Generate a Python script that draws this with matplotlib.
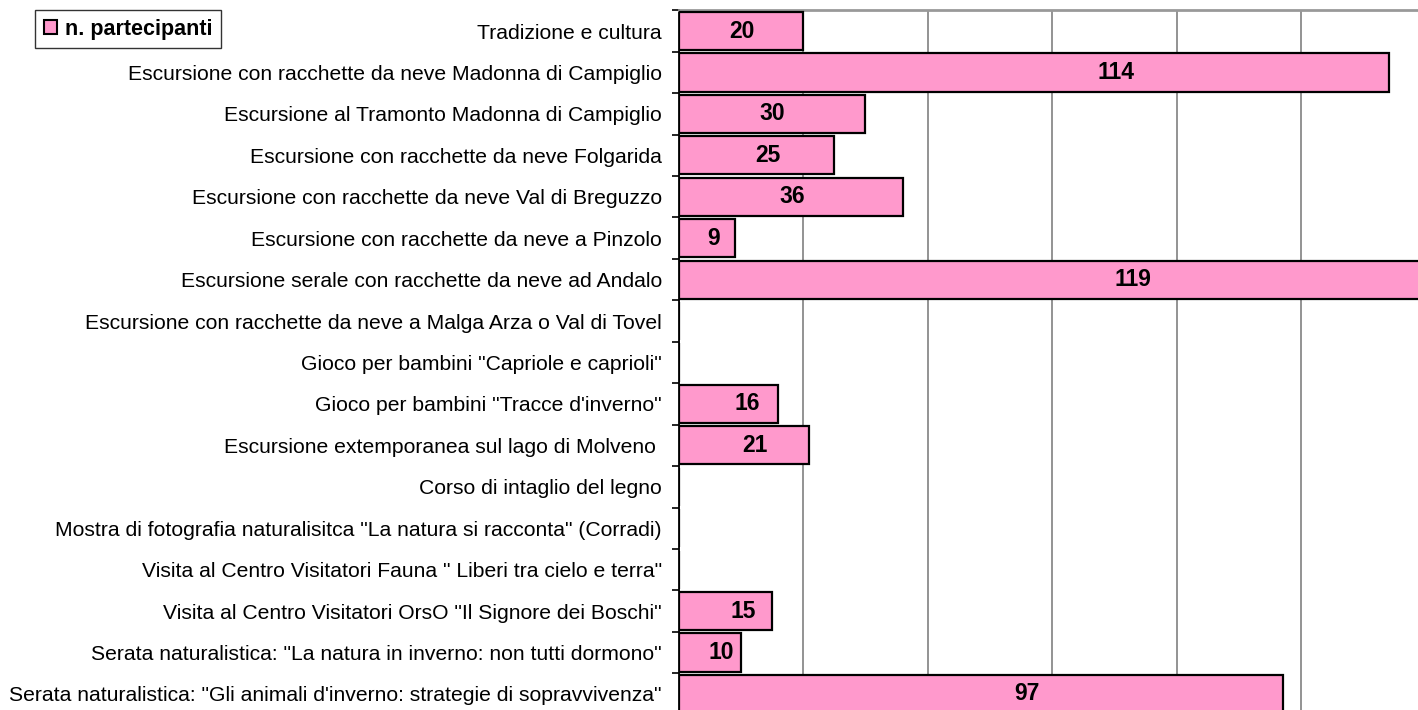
import numpy as np
import matplotlib
matplotlib.use("Agg")
import matplotlib.pyplot as plt
from matplotlib.patches import Patch

# Dati (dall'alto verso il basso)
attivita = [
    'Tradizione e cultura',
    'Escursione con racchette da neve Madonna di Campiglio',
    'Escursione al Tramonto Madonna di Campiglio',
    'Escursione con racchette da neve Folgarida',
    'Escursione con racchette da neve Val di Breguzzo',
    'Escursione con racchette da neve a Pinzolo',
    'Escursione serale con racchette da neve ad Andalo',
    'Escursione con racchette da neve a Malga Arza o Val di Tovel',
    'Gioco per bambini "Capriole e caprioli"',
    'Gioco per bambini "Tracce d\'inverno"',
    'Escursione extemporanea sul lago di Molveno ',
    'Corso di intaglio del legno',
    'Mostra di fotografia naturalisitca "La natura si racconta" (Corradi)',
    'Visita al Centro Visitatori Fauna " Liberi tra cielo e terra"',
    'Visita al Centro Visitatori OrsO "Il Signore dei Boschi"',
    'Serata naturalistica: "La natura in inverno: non tutti dormono"',
    'Serata naturalistica: "Gli animali d\'inverno: strategie di sopravvivenza"',
]
partecipanti = [20, 114, 30, 25, 36, 9, 119, 0, 0, 16, 21, 0, 0, 0, 15, 10, 97]
# spostamento delle etichette rispetto al centro della barra
spost_etichette = [0.2, 13.3, 0, 1.8, 0.2, 1.1, 13.5, 0, 0, 3.0, 1.8, 0, 0, 0, 2.9, 1.9, 7.5]

plt.rcParams['font.family'] = ['Liberation Sans', 'DejaVu Sans']

W, H = 1418, 710
fig = plt.figure(figsize=(W / 100, H / 100), dpi=100)
left, right, top, bottom = 678.5, 1426, 10.3, 714.7
ax = fig.add_axes([left / W, (H - bottom) / H, (right - left) / W, (bottom - top) / H])

rosa = '#FF99CC'
y = np.arange(len(attivita))
ax.barh(y, partecipanti, height=0.92, color=rosa, edgecolor='black', linewidth=1.6, zorder=3)

for yi, v, s in zip(y, partecipanti, spost_etichette):
    if v > 0:
        ax.text(v / 2 + s, yi, str(v), ha='center', va='center',
                fontsize=16.5, fontweight='bold', zorder=4)

ax.set_xlim(0, 120)
ax.set_ylim(len(attivita) - 0.5, -0.5)
ax.set_xticks(np.arange(0, 121, 20))
ax.tick_params(axis='x', length=0, labelbottom=False)
ax.xaxis.grid(True, color='#808080', linewidth=1.2, zorder=0)

# etichette delle categorie, tacche sui confini
ax.set_yticks(y)
ax.set_yticklabels(attivita, fontsize=15.2)
ax.tick_params(axis='y', which='major', length=0, pad=12)
ax.set_yticks(np.arange(-0.5, len(attivita), 1), minor=True)
ax.tick_params(axis='y', which='minor', length=5, width=1.2, color='black', direction='out')

ax.spines['left'].set_color('black')
ax.spines['left'].set_linewidth(1.3)
ax.spines['top'].set_color('#999999')
ax.spines['top'].set_linewidth(2)
ax.spines['right'].set_visible(False)
ax.spines['bottom'].set_visible(False)

leg = fig.legend(handles=[Patch(facecolor=rosa, edgecolor='black', linewidth=1.5, label='n. partecipanti')],
                 loc='upper left', bbox_to_anchor=(35 / W, 1 - 10 / H), frameon=True,
                 fancybox=False, prop={'size': 15.5, 'weight': 'bold'},
                 handlelength=0.6, handleheight=0.6, handletextpad=0.4,
                 borderpad=0.4, borderaxespad=0)
leg.get_frame().set_edgecolor('black')
leg.get_frame().set_linewidth(1.0)

fig.savefig('out.png', dpi=100)
